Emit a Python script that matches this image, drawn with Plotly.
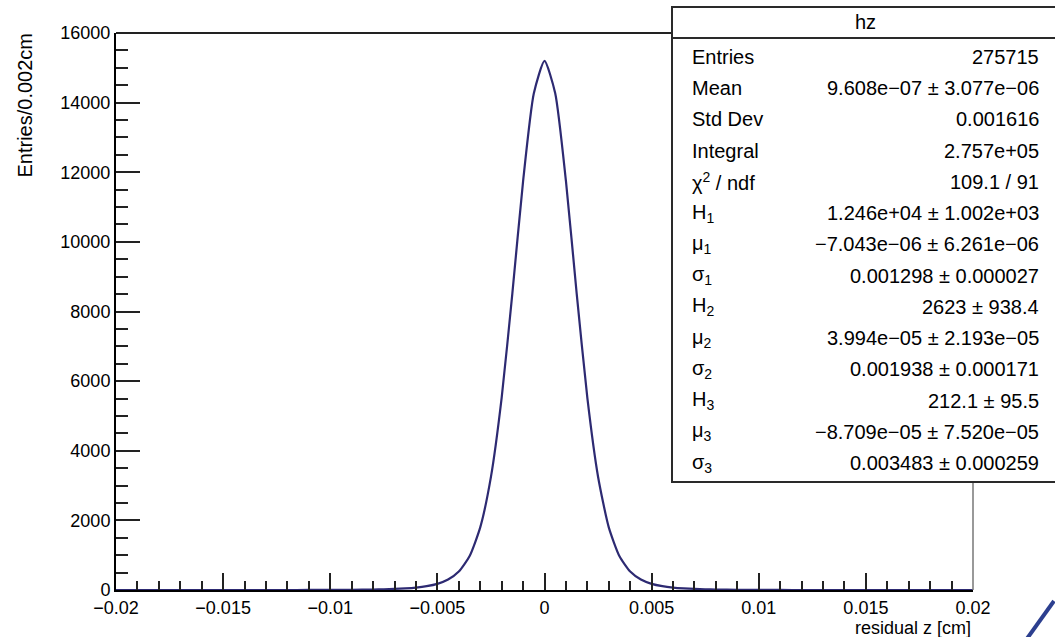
import plotly.graph_objects as go

# ---- data ----
residual_z = [-0.020, -0.012, -0.011, -0.010, -0.009, -0.008, -0.0075, -0.007, -0.0065, -0.006,
              -0.0055, -0.005, -0.0045, -0.004, -0.0035, -0.003, -0.0025, -0.002, -0.0015,
              -0.001, -0.0005, 0.0, 0.0005, 0.001, 0.0015, 0.002, 0.0025, 0.003, 0.0035,
              0.004, 0.0045, 0.005, 0.0055, 0.006, 0.0065, 0.007, 0.0075, 0.008, 0.009,
              0.010, 0.011, 0.012, 0.020]
entries = [0, 0.5, 1, 3.5, 7.5, 15, 22, 32, 47, 70,
           110, 177, 300, 530, 970, 1800, 3250, 5520, 8520,
           11740, 14260, 15200, 14270, 11750, 8530, 5520, 3255, 1800, 970,
           530, 300, 177, 110, 70, 47, 32, 22, 15, 7.5,
           3.5, 1, 0.5, 0]

x_ticks = [-0.02, -0.015, -0.01, -0.005, 0, 0.005, 0.01, 0.015, 0.02]
x_tick_text = ["\u22120.02", "\u22120.015", "\u22120.01", "\u22120.005", "0", "0.005", "0.01", "0.015", "0.02"]
y_ticks = [0, 2000, 4000, 6000, 8000, 10000, 12000, 14000, 16000]
y_tick_text = ["0", "2000", "4000", "6000", "8000", "10000", "12000", "14000", "16000"]

stat_title = "hz"
stat_names = ["Entries", "Mean", "Std Dev", "Integral", "\u03c7<sup>2</sup> / ndf",
              "H<sub>1</sub>", "\u03bc<sub>1</sub>", "\u03c3<sub>1</sub>",
              "H<sub>2</sub>", "\u03bc<sub>2</sub>", "\u03c3<sub>2</sub>",
              "H<sub>3</sub>", "\u03bc<sub>3</sub>", "\u03c3<sub>3</sub>"]
stat_values = ["275715", "9.608e\u221207 \u00b1 3.077e\u221206", "0.001616", "2.757e+05", "109.1 / 91",
               "1.246e+04 \u00b1 1.002e+03", "\u22127.043e\u221206 \u00b1 6.261e\u221206", "0.001298 \u00b1 0.000027",
               "2623 \u00b1 938.4", "3.994e\u221205 \u00b1 2.193e\u221205", "0.001938 \u00b1 0.000171",
               "212.1 \u00b1 95.5", "\u22128.709e\u221205 \u00b1 7.520e\u221205", "0.003483 \u00b1 0.000259"]

# ---- geometry helpers (pixel -> paper) ----
W, H = 1055, 637
L, R, T, B = 116, 973, 33, 590


def px(x):
    return (x - L) / (R - L)


def py(y):
    return (B - y) / (B - T)


FONT = "Liberation Sans, Arial, Helvetica, sans-serif"

fig = go.Figure()
fig.add_trace(go.Scatter(x=residual_z, y=entries, mode="lines",
                         line=dict(color="#2d2a72", width=2.2, shape="spline", smoothing=0.6),
                         hoverinfo="x+y", showlegend=False))

fig.update_layout(
    width=W, height=H,
    margin=dict(l=L, r=W - R, t=T, b=H - B),
    paper_bgcolor="white", plot_bgcolor="white",
    font=dict(family=FONT, color="black", size=18),
    showlegend=False,
)

fig.update_xaxes(
    range=[-0.02, 0.02], tickvals=x_ticks, ticktext=x_tick_text,
    ticks="inside", ticklen=17, tickwidth=1.8, tickcolor="#222",
    minor=dict(ticks="inside", ticklen=9, tickwidth=1.8, tickcolor="#222", dtick=0.001, showgrid=False),
    showline=True, linecolor="black", linewidth=2, showgrid=False, zeroline=False,
    tickfont=dict(size=18, family=FONT, color="black"), fixedrange=True,
)
fig.update_yaxes(
    range=[0, 16000], tickvals=y_ticks, ticktext=y_tick_text,
    ticks="inside", ticklen=24, tickwidth=1.8, tickcolor="#222",
    minor=dict(ticks="inside", ticklen=12, tickwidth=1.8, tickcolor="#222", dtick=500, showgrid=False),
    showline=True, linecolor="black", linewidth=2, showgrid=False, zeroline=False,
    tickfont=dict(size=18, family=FONT, color="black"), fixedrange=True,
)

shapes = []
# top frame line and right frame line
shapes.append(dict(type="line", xref="paper", yref="paper", x0=0, x1=px(1060), y0=1, y1=1,
                   line=dict(color="#222", width=2)))
shapes.append(dict(type="line", xref="paper", yref="paper", x0=1, x1=1, y0=0, y1=1,
                   line=dict(color="#777", width=1.5)))
# stats box (its right edge runs past the picture)
shapes.append(dict(type="rect", xref="paper", yref="paper", x0=px(672), x1=px(1080),
                   y0=py(482), y1=py(7), fillcolor="white", line=dict(color="#2a2a2a", width=2), layer="above"))
shapes.append(dict(type="line", xref="paper", yref="paper", x0=px(672), x1=px(1080),
                   y0=py(38), y1=py(38), line=dict(color="#2a2a2a", width=2), layer="above"))
# blue diagonal stroke in bottom-right corner
shapes.append(dict(type="line", xref="paper", yref="paper", x0=px(1054), x1=px(1026),
                   y0=py(601), y1=py(640), line=dict(color="#2c3f8f", width=4)))
fig.update_layout(shapes=shapes)

ann = []
ann.append(dict(text=stat_title, x=px(865), y=py(22), xref="paper", yref="paper",
                xanchor="center", yanchor="middle", showarrow=False, font=dict(size=20, family=FONT)))
n = len(stat_names)
for i, (nm, val) in enumerate(zip(stat_names, stat_values)):
    yy = 57 + i * (463 - 57) / (n - 1)
    ann.append(dict(text=nm, x=px(690), y=py(yy), xref="paper", yref="paper",
                    xanchor="left", yanchor="middle", showarrow=False, font=dict(size=20, family=FONT)))
    ann.append(dict(text=val, x=px(1041), y=py(yy), xref="paper", yref="paper",
                    xanchor="right", yanchor="middle", showarrow=False, font=dict(size=20, family=FONT)))
# axis titles (ROOT style: aligned to the axis end)
ann.append(dict(text="residual z [cm]", x=1, y=py(628), xref="paper", yref="paper",
                xanchor="right", yanchor="middle", showarrow=False, font=dict(size=18, family=FONT)))
ann.append(dict(text="Entries/0.002cm", x=px(24), y=py(31), xref="paper", yref="paper",
                xanchor="center", yanchor="top", textangle=-90, showarrow=False,
                font=dict(size=20, family=FONT)))
fig.update_layout(annotations=ann)

fig.write_html("out.html")
